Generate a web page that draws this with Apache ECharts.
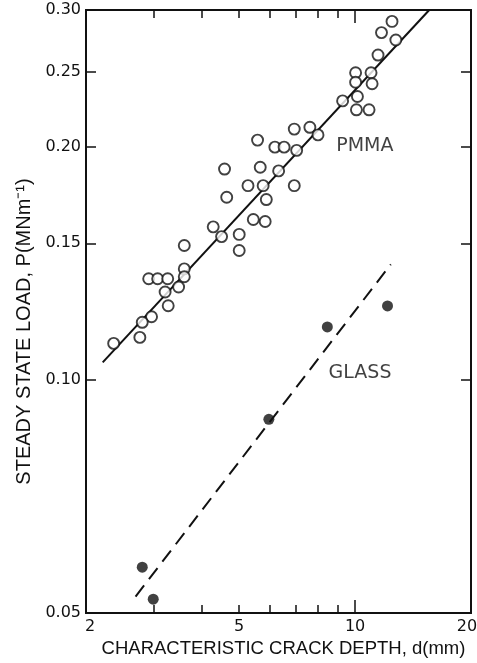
<!DOCTYPE html>
<html>
<head>
<meta charset="utf-8">
<script src="https://cdn.jsdelivr.net/npm/echarts@6/dist/echarts.min.js"></script>
<style>
  html, body { margin: 0; padding: 0; background: #fff; }
  #chart { width: 477px; height: 663px; }
</style>
</head>
<body>
<div id="chart"></div>
<script>
// PMMA (open circles): crack depth d (mm) and steady state load P (MN/m)
let pmmaD = [12.47, 11.71, 12.76, 11.47, 10.03, 11.0, 10.03, 11.07, 10.14, 9.28, 10.08, 10.87,
    7.63, 6.95, 8.01, 5.58, 6.19, 6.54, 7.05, 4.58, 5.67, 6.33, 5.27, 5.77, 6.95, 4.64, 5.88,
    5.44, 5.84, 4.28, 4.50, 5.0, 5.0, 3.60, 3.60, 3.60, 2.91, 3.07, 3.26, 3.21, 3.48, 3.27,
    2.96, 2.80, 2.76, 2.36];
let pmmaP = [0.290, 0.2805, 0.2744, 0.2624, 0.249, 0.249, 0.242, 0.241, 0.232, 0.229, 0.223, 0.223,
    0.2117, 0.2106, 0.207, 0.2038, 0.1996, 0.1996, 0.1977, 0.187, 0.188, 0.186, 0.178, 0.178, 0.178,
    0.172, 0.1708, 0.161, 0.160, 0.1575, 0.153, 0.154, 0.1468, 0.149, 0.139, 0.1358, 0.135, 0.135,
    0.135, 0.1298, 0.1317, 0.1246, 0.1206, 0.1186, 0.1134, 0.1114];

// glass (filled circles)
let glassD = [8.47, 12.14, 5.97, 2.80, 2.99];
let glassP = [0.117, 0.1245, 0.0889, 0.0573, 0.0521];

// fitted lines, end points
let pmmaFitD = [2.21, 15.58];
let pmmaFitP = [0.1053, 0.30];
let glassFitD = [2.69, 12.38];
let glassFitP = [0.0525, 0.1409];

// axis ticks
let xLabels = [2, 5, 10, 20];
let xMinorTicks = [3, 4, 5, 6, 7, 8, 9];
let xLongTicks = [10];
let yLabels = [0.05, 0.10, 0.15, 0.20, 0.25, 0.30];
let yRightTicks = [0.10, 0.15, 0.20, 0.25];

// in-plot material labels
let tagNames = ['PMMA', 'GLASS'];
let tagD = [10.6, 10.3];
let tagP = [0.200, 0.102];

const ink = '#111111';
const pairs = (xs, ys) => xs.map((x, i) => [x, ys[i]]);

let myChart = echarts.init(document.getElementById('chart'));

function xAxisOf(position, ticks, len, withLabels) {
    return {
        type: 'log',
        logBase: 10,
        min: 2,
        max: 20,
        position: position,
        axisLine: { show: true, onZero: false, lineStyle: { color: ink, width: 2 } },
        axisTick: { show: true, inside: true, length: len, customValues: ticks, lineStyle: { color: ink, width: 1.5 } },
        axisLabel: withLabels ? {
            show: true,
            customValues: xLabels,
            margin: 6,
            color: ink,
            fontFamily: 'DejaVu Sans',
            fontSize: 16,
            // first and last label sit a little inside the frame, as in the figure
            formatter: v => v <= 2 ? '{l|' + v + '}' : v >= 20 ? '{r|' + v + '}' : String(v),
            rich: {
                l: { fontFamily: 'DejaVu Sans', fontSize: 16, color: ink, padding: [0, 0, 0, 8] },
                r: { fontFamily: 'DejaVu Sans', fontSize: 16, color: ink, padding: [0, 8, 0, 0] }
            }
        } : { show: false },
        splitLine: { show: false },
        minorTick: { show: false }
    };
}

function yAxisOf(position, ticks, withLabels) {
    return {
        type: 'log',
        logBase: 10,
        min: 0.05,
        max: 0.30,
        position: position,
        axisLine: { show: true, onZero: false, lineStyle: { color: ink, width: 2 } },
        axisTick: { show: true, inside: true, length: 10, customValues: ticks, lineStyle: { color: ink, width: 1.5 } },
        axisLabel: withLabels ? {
            show: true,
            customValues: yLabels,
            margin: 5,
            color: ink,
            fontFamily: 'DejaVu Sans',
            fontSize: 16,
            formatter: v => Number(v).toFixed(2)
        } : { show: false },
        splitLine: { show: false }
    };
}

let xMain = xAxisOf('bottom', xMinorTicks, 8, true);
xMain.name = 'CHARACTERISTIC CRACK DEPTH, d(mm)';
xMain.nameLocation = 'middle';
xMain.nameGap = 25;
xMain.nameTextStyle = { color: ink, fontFamily: 'Liberation Sans', fontSize: 18.5, padding: [0, 0, 0, 10] };

let yMain = yAxisOf('left', yLabels, true);
yMain.name = 'STEADY STATE LOAD, P(MNm⁻¹)';
yMain.nameLocation = 'middle';
yMain.nameGap = 46;
yMain.nameTextStyle = { color: ink, fontFamily: 'Liberation Sans', fontSize: 20, padding: [0, 40, 0, 0] };

let option = {
    backgroundColor: '#ffffff',
    animation: false,
    grid: { left: 86, right: 6, top: 10, bottom: 50, outerBoundsMode: 'none', containLabel: false },
    xAxis: [
        xMain,
        xAxisOf('bottom', xLongTicks, 13, false),
        xAxisOf('top', xMinorTicks, 8, false),
        xAxisOf('top', xLongTicks, 13, false)
    ],
    yAxis: [
        yMain,
        yAxisOf('right', yRightTicks, false)
    ],
    series: [
        {
            name: 'PMMA fit',
            type: 'line',
            data: pairs(pmmaFitD, pmmaFitP),
            showSymbol: false,
            lineStyle: { color: ink, width: 2 },
            z: 2
        },
        {
            name: 'GLASS fit',
            type: 'line',
            data: pairs(glassFitD, glassFitP),
            showSymbol: false,
            lineStyle: { color: ink, width: 2, type: [14, 8] },
            z: 2
        },
        {
            name: 'PMMA',
            type: 'scatter',
            data: pairs(pmmaD, pmmaP),
            symbol: 'circle',
            symbolSize: 11,
            itemStyle: { color: '#ffffff', borderColor: ink, borderWidth: 1.9 },
            z: 3
        },
        {
            name: 'GLASS',
            type: 'scatter',
            data: pairs(glassD, glassP),
            symbol: 'circle',
            symbolSize: 11,
            itemStyle: { color: ink },
            z: 3
        },
        {
            name: 'tags',
            type: 'scatter',
            data: tagNames.map((t, i) => [tagD[i], tagP[i], t]),
            symbolSize: 0,
            label: {
                show: true,
                position: 'inside',
                formatter: p => p.value[2],
                color: ink,
                fontFamily: 'DejaVu Sans',
                fontSize: 19
            },
            silent: true,
            z: 4
        }
    ]
};

myChart.setOption(option);
</script>
</body>
</html>
